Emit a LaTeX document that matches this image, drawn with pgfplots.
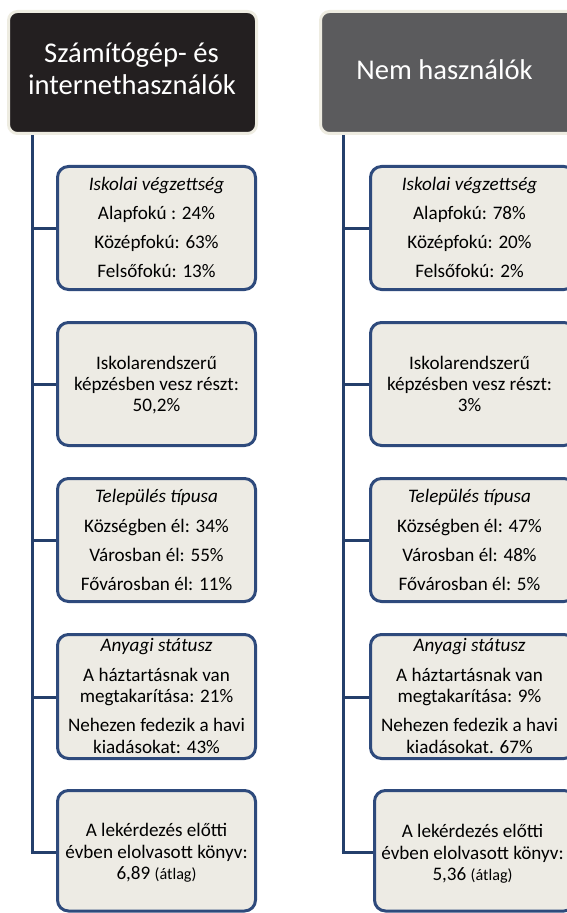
\documentclass[border=0pt]{standalone}
\usepackage{pgfplots}
\pgfplotsset{compat=1.18}
\usepackage{fontspec}
\setmainfont{Carlito}
\definecolor{hdrA}{HTML}{231F20}
\definecolor{hdrB}{HTML}{5B5B5D}
\definecolor{cream}{HTML}{EEECE1}
\definecolor{boxfill}{HTML}{EDEBE4}
\definecolor{boxline}{HTML}{2E4A7C}
\definecolor{linec}{HTML}{243F6B}
\newcommand{\bodyfont}{\fontsize{19.2}{22}\selectfont}
\newcommand{\smallfont}{\fontsize{16.2}{18}\selectfont}
\newcommand{\hdrfont}{\fontsize{28.7}{33}\selectfont}
\newcommand{\T}[3]{\node[inner sep=0pt,anchor=base,font=\bodyfont] at (axis cs:#1,#2) {#3};}
\newcommand{\Bx}[4]{\draw[boxline,line width=3bp,fill=boxfill,rounded corners=11bp] (axis cs:#1,#2) rectangle (axis cs:#3,#4);}
\begin{document}
\begin{tikzpicture}
\useasboundingbox (0,0) rectangle (567bp,913bp);
\begin{axis}[at={(0,0)},anchor=south west,width=567bp,height=913bp,scale only axis,
  xmin=0,xmax=567,ymin=0,ymax=913,y dir=reverse,hide axis,clip=true]
% connector lines
\addplot[linec,line width=3bp,mark=none] coordinates {(32,134) (32,852)};
\addplot[linec,line width=3bp,mark=none] coordinates {(30.5,852) (58,852)};
\addplot[linec,line width=3bp,mark=none] coordinates {(32,228) (58,228)};
\addplot[linec,line width=3bp,mark=none] coordinates {(32,384) (58,384)};
\addplot[linec,line width=3bp,mark=none] coordinates {(32,540) (58,540)};
\addplot[linec,line width=3bp,mark=none] coordinates {(32,697) (58,697)};
\addplot[linec,line width=3bp,mark=none] coordinates {(343,134) (343,852)};
\addplot[linec,line width=3bp,mark=none] coordinates {(341.5,852) (373,852)};
\addplot[linec,line width=3bp,mark=none] coordinates {(343,228) (370,228)};
\addplot[linec,line width=3bp,mark=none] coordinates {(343,384) (370,384)};
\addplot[linec,line width=3bp,mark=none] coordinates {(343,540) (370,540)};
\addplot[linec,line width=3bp,mark=none] coordinates {(343,697) (370,697)};
% headers
\draw[cream,line width=3bp,fill=hdrA,rounded corners=9bp] (axis cs:8.5,11.5) rectangle (axis cs:256.5,133.5);
\draw[cream,line width=3bp,fill=hdrB,rounded corners=9bp] (axis cs:320.5,11.5) rectangle (axis cs:580,133.5);
\node[inner sep=0pt,anchor=base,text=white,font=\hdrfont] at (axis cs:131.5,62.3) {Számítógép- és};
\node[inner sep=0pt,anchor=base,text=white,font=\hdrfont] at (axis cs:132,95) {internethasználók};
\node[inner sep=0pt,anchor=base,text=white,font=\hdrfont] at (axis cs:444.5,79.3) {Nem használók};
% left boxes
\Bx{57.5}{166.5}{255.5}{289.5}
\Bx{57.5}{322.5}{255.5}{445.5}
\Bx{57.5}{478.5}{255.5}{601.5}
\Bx{57.5}{634.5}{255.5}{758.5}
\Bx{57.5}{790.5}{255.5}{911}
% right boxes
\Bx{370.5}{166.5}{575}{289.5}
\Bx{370.5}{322.5}{575}{445.5}
\Bx{370.5}{478.5}{575}{601.5}
\Bx{370.5}{634.5}{575}{758.5}
\Bx{374.5}{790.5}{575}{911}
% left texts
\T{156.5}{190.7}{\itshape Iskolai végzettség}
\T{156.5}{219}{Alapfokú : 24\%}
\T{156.5}{248.3}{Középfokú: 63\%}
\T{156.5}{277.7}{Felsőfokú: 13\%}
\T{156.5}{369.5}{Iskolarendszerű}
\T{156.5}{390.5}{képzésben vesz részt:}
\T{156.5}{411.5}{50,2\%}
\T{156.5}{502.3}{\itshape Település típusa}
\T{156.5}{532}{Községben él: 34\%}
\T{156.5}{561}{Városban él: 55\%}
\T{156.5}{590}{Fővárosban él: 11\%}
\T{156.5}{651.7}{\itshape Anyagi státusz}
\T{156.5}{681}{A háztartásnak van}
\T{156.5}{702.7}{megtakarítása: 21\%}
\T{156.5}{731.7}{Nehezen fedezik a havi}
\T{156.5}{753.3}{kiadásokat: 43\%}
\T{156.5}{836.7}{A lekérdezés előtti}
\T{156.5}{858.3}{évben elolvasott könyv:}
\T{156.5}{879.3}{6,89 {\smallfont (átlag)}}
% right texts
\T{469.5}{190.7}{\itshape Iskolai végzettség}
\T{469.5}{219}{Alapfokú: 78\%}
\T{469.5}{248.3}{Középfokú: 20\%}
\T{469.5}{277.7}{Felsőfokú: 2\%}
\T{469.5}{369.5}{Iskolarendszerű}
\T{469.5}{390.5}{képzésben vesz részt:}
\T{469.5}{411.5}{3\%}
\T{469.5}{502.3}{\itshape Település típusa}
\T{469.5}{532}{Községben él: 47\%}
\T{469.5}{561}{Városban él: 48\%}
\T{469.5}{590}{Fővárosban él: 5\%}
\T{469.5}{651.7}{\itshape Anyagi státusz}
\T{469.5}{681}{A háztartásnak van}
\T{469.5}{702.7}{megtakarítása: 9\%}
\T{469.5}{731.7}{Nehezen fedezik a havi}
\T{469.5}{753.3}{kiadásokat. 67\%}
\T{472.5}{837.7}{A lekérdezés előtti}
\T{472.5}{859}{évben elolvasott könyv:}
\T{472.5}{880}{5,36 {\smallfont (átlag)}}
\end{axis}
\end{tikzpicture}
\end{document}
